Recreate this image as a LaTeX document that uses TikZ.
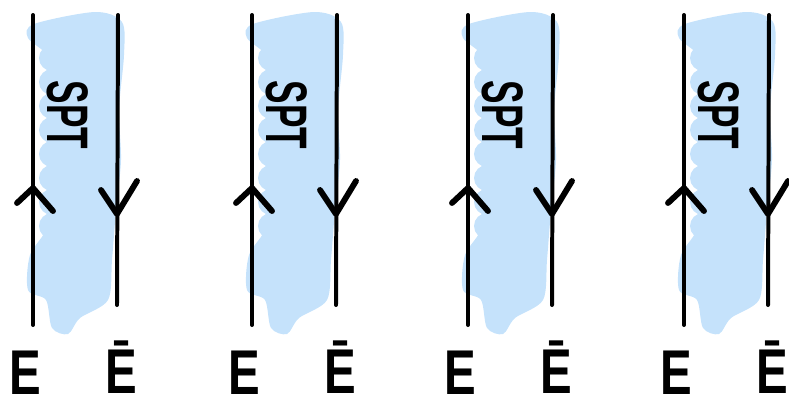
\documentclass[tikz,border=0pt]{standalone}
\usepackage{fontspec}
\setmainfont{Liberation Sans}
\usetikzlibrary{positioning}
\definecolor{bandblue}{HTML}{C5E2FB}

\begin{document}
\begin{tikzpicture}[
  x=0.03cm, y=-0.03cm,
  band/.style = {fill=bandblue},
  wire/.style = {line width=3.4pt, line cap=round},
  chev/.style = {line width=5pt, line cap=round, line join=round},
  lbl/.style  = {font=\fontsize{54}{58}\selectfont\bfseries, inner sep=0pt},
  spt/.style  = {font=\fontsize{50}{54}\selectfont\bfseries, rotate=-90, inner sep=0pt}
]
\useasboundingbox (0,0) rectangle (789,411);

% ---------- four copies of the same strip ---------------------------
\foreach \n/\o in {1/0, 2/219, 3/435, 4/651}{
  \begin{scope}[shift={(\o,0)}]
    % blue band
    \fill[band] plot[smooth cycle] coordinates {(34,24) (95,12) (122,22) (124,55) (119,110)
      (121,160) (116,210) (112,260) (108,300) (80,318) (68,334) (52,328) (46,300) (28,290)
      (30,255) (48,225) (52,170) (52,110) (50,60) (28,38)};
    \foreach \y in {58,82,106,130,154,178,202,226,250}{\fill[band] (52,\y) circle (13);}

    % strands
    \coordinate (lt\n) at (33,15);
    \coordinate (lb\n) at (33,325);
    \coordinate (rt\n) at (118,15);
    \coordinate (rb\n) at (117,305);
    \draw[wire] (lt\n) -- (lb\n);
    \draw[wire] (rt\n) -- (rb\n);

    % orientation marks
    \draw[chev] (17,203) -- (33,188) -- (53,211);
    \draw[chev] (101,190) -- (117,214) -- (137,181);

    % labels
    \node[spt] (spt\n) at (68,115) {\scalebox{0.6}[1]{SPT}};
    \node[lbl] (e\n)  at (25,373) {\scalebox{0.75}[1]{E}};
    \node[lbl] (eb\n) at (121,367) {\scalebox{0.75}[1]{Ē}};
  \end{scope}
}
\end{tikzpicture}
\end{document}
